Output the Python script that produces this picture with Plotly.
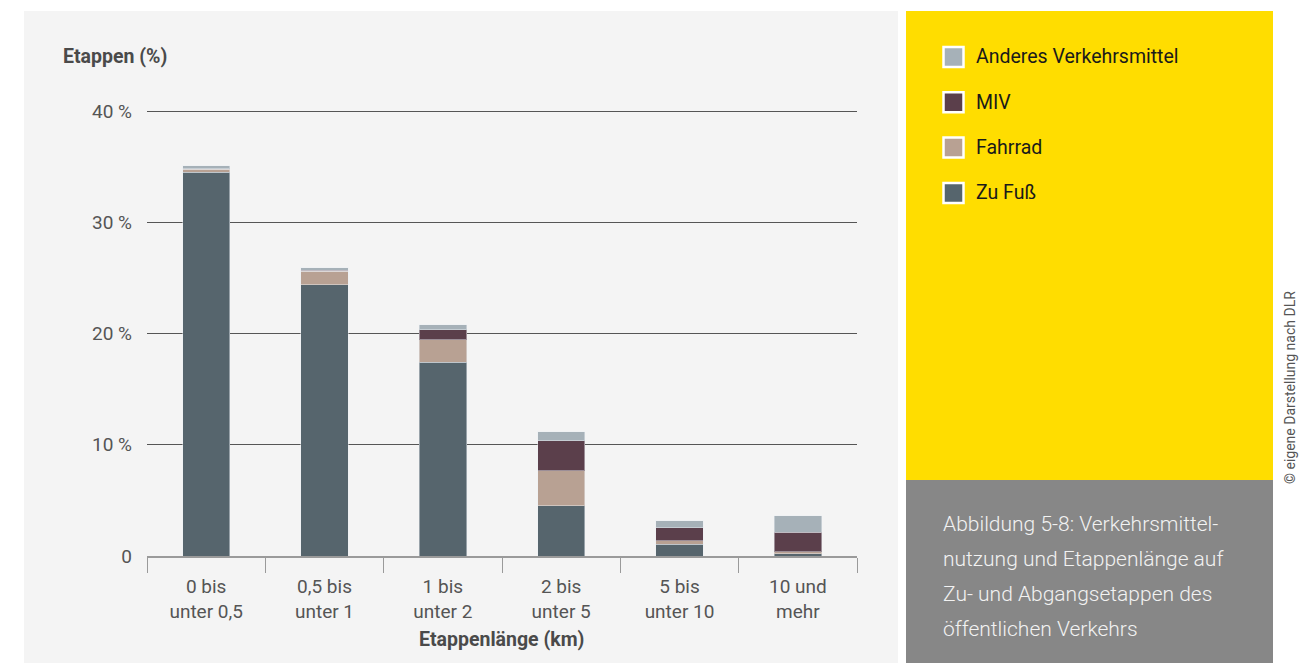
import plotly.graph_objects as go

# Etappenlänge categories (two-line labels)
categories = ["0 bis<br>unter 0,5", "0,5 bis<br>unter 1", "1 bis<br>unter 2",
              "2 bis<br>unter 5", "5 bis<br>unter 10", "10 und<br>mehr"]

# Share of stages per mode (%)
zu_fuss = [34.5, 24.4, 17.4, 4.5, 1.05, 0.2]
fahrrad = [0.25, 1.2, 2.05, 3.15, 0.3, 0.18]
miv = [0.05, 0.1, 0.9, 2.7, 1.2, 1.75]
anderes = [0.3, 0.2, 0.42, 0.84, 0.6, 1.5]

series_names = ["Zu Fuß", "Fahrrad", "MIV", "Anderes Verkehrsmittel"]
series_values = [zu_fuss, fahrrad, miv, anderes]
series_colors = ["#56656d", "#b8a193", "#5b3f4b", "#a6b1b8"]

y_tickvals = [0, 10, 20, 30, 40]
y_ticktext = ["0", "10 %", "20 %", "30 %", "40 %"]

caption_lines = ["Abbildung 5-8: Verkehrsmittel-", "nutzung und Etappenlänge auf",
                 "Zu- und Abgangsetappen des", "öffentlichen Verkehrs"]
credit = "© eigene Darstellung nach DLR"

W, H = 1310, 663
L, R, T, B = 147, 453, 108, 107
PW, PH = W - L - R, H - T - B
Y_TOP = 40 * PH / 445.0  # leaves a few pixels above the 40 % gridline


def px(x):
    return (x - L) / PW


def py(y):
    return (H - B - y) / PH


FONT = "Roboto, Liberation Sans, sans-serif"

fig = go.Figure()
for name, vals, col in zip(series_names, series_values, series_colors):
    fig.add_trace(go.Bar(
        x=categories, y=vals, name=name, width=0.4,
        marker=dict(color=col, line=dict(color="rgba(235,240,243,0.45)", width=1)),
        showlegend=False,
    ))

shapes = [
    # chart panel
    dict(type="rect", xref="paper", yref="paper", x0=px(24), x1=px(898),
         y0=py(663), y1=py(11), fillcolor="#f4f4f4", line_width=0, layer="below"),
    # legend panel
    dict(type="rect", xref="paper", yref="paper", x0=px(906), x1=px(1273),
         y0=py(480), y1=py(11), fillcolor="#ffdd00", line_width=0, layer="below"),
    # caption panel
    dict(type="rect", xref="paper", yref="paper", x0=px(906), x1=px(1273),
         y0=py(663), y1=py(480), fillcolor="#878787", line_width=0, layer="below"),
]

annotations = []
# manual legend, top entry = topmost stack segment
legend_order = list(zip(series_names, series_colors))[::-1]
for i, (name, col) in enumerate(legend_order):
    cy = 57 + i * 45.3
    shapes.append(dict(type="rect", xref="paper", yref="paper",
                       x0=px(943.5), x1=px(963.5), y0=py(cy + 10), y1=py(cy - 10),
                       fillcolor=col, line=dict(color="white", width=2.5)))
    annotations.append(dict(xref="paper", yref="paper", x=px(974), y=py(cy),
                            text=name, showarrow=False, xanchor="left", yanchor="middle",
                            font=dict(family=FONT, size=19.5, color="#1a1a1a")))

for i, line in enumerate(caption_lines):
    annotations.append(dict(xref="paper", yref="paper", x=px(941), y=py(524 + i * 35),
                            text=line, showarrow=False, xanchor="left", yanchor="middle",
                            font=dict(family=FONT, size=21, color="#f2f2f2", weight=300)))

annotations += [
    dict(xref="paper", yref="paper", x=px(61), y=py(57), text="<b>Etappen (%)</b>",
         showarrow=False, xanchor="left", yanchor="middle",
         font=dict(family=FONT, size=19.5, color="#4a4a4a")),
    dict(xref="paper", yref="paper", x=px(501), y=py(639), text="<b>Etappenlänge (km)</b>",
         showarrow=False, xanchor="center", yanchor="middle",
         font=dict(family=FONT, size=19.5, color="#4a4a4a")),
    dict(xref="paper", yref="paper", x=px(1290), y=py(388), text=credit, textangle=-90,
         showarrow=False, xanchor="center", yanchor="middle",
         font=dict(family=FONT, size=14, color="#555555")),
]

fig.update_layout(
    width=W, height=H,
    margin=dict(l=L, r=R, t=T, b=B, autoexpand=False),
    barmode="stack",
    paper_bgcolor="white",
    plot_bgcolor="#f4f4f4",
    shapes=shapes,
    annotations=annotations,
    font=dict(family=FONT, size=19, color="#555555"),
    xaxis=dict(
        type="category", tickson="boundaries", ticks="outside", ticklen=15,
        tickcolor="#9a9a9a", tickwidth=1, showline=True, linecolor="#9a9a9a",
        linewidth=2, showgrid=False, range=[-0.5, 5.5], ticklabelstandoff=12,
        tickfont=dict(family=FONT, size=19, color="#555555"),
    ),
    yaxis=dict(
        range=[0, Y_TOP], tickvals=y_tickvals, ticktext=y_ticktext,
        showgrid=True, gridcolor="#555555", gridwidth=1, zeroline=False,
        ticks="", ticklabelstandoff=14,
        tickfont=dict(family=FONT, size=19, color="#555555"),
    ),
)

fig.write_html("out.html")
